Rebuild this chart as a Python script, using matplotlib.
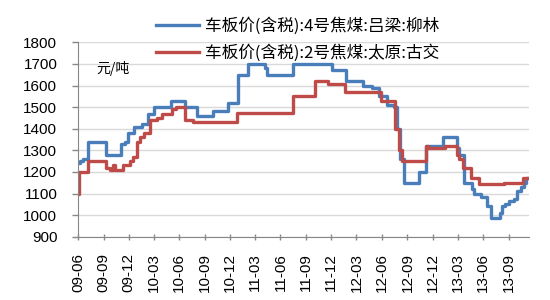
import matplotlib
matplotlib.use("Agg")
import matplotlib.pyplot as plt
import pandas as pd

plt.rcParams['font.family'] = ['Liberation Sans', 'Noto Sans CJK SC', 'DejaVu Sans']

# 4号焦煤 吕梁柳林 (step changes)
blue_dates = ['2009-06-01', '2009-06-08', '2009-06-19', '2009-07-06', '2009-09-10', '2009-11-03',
              '2009-11-18', '2009-11-29', '2009-12-20', '2010-01-18', '2010-02-09', '2010-03-01',
              '2010-05-01', '2010-06-21', '2010-08-03', '2010-09-30', '2010-11-24', '2010-12-29',
              '2011-02-04', '2011-04-08', '2011-04-15', '2011-07-18', '2011-12-03', '2012-01-23',
              '2012-03-23', '2012-04-28', '2012-05-23', '2012-06-21', '2012-07-13', '2012-07-24',
              '2012-08-04', '2012-08-18', '2012-10-12', '2012-11-06', '2013-01-07', '2013-02-26',
              '2013-03-07', '2013-03-25', '2013-04-23', '2013-04-30', '2013-05-25', '2013-06-16',
              '2013-06-30', '2013-08-02', '2013-08-09', '2013-08-20', '2013-09-04', '2013-09-22',
              '2013-10-02', '2013-10-17', '2013-10-28', '2013-11-04', '2013-11-14']
blue_vals = [1240, 1250, 1260, 1340, 1280, 1330, 1340, 1380, 1410, 1420, 1470, 1500,
             1530, 1500, 1460, 1480, 1520, 1650, 1700, 1680, 1650, 1700, 1670, 1620,
             1600, 1590, 1550, 1510, 1500, 1400, 1260, 1150, 1200, 1320, 1360, 1310,
             1280, 1150, 1120, 1100, 1085, 1040, 985, 1010, 1040, 1050, 1065, 1075,
             1110, 1130, 1150, 1170, 1170]

# 2号焦煤 太原古交
red_dates = ['2009-06-01', '2009-06-04', '2009-07-06', '2009-09-10', '2009-09-25', '2009-10-05',
             '2009-10-12', '2009-11-10', '2009-12-05', '2009-12-16', '2009-12-30', '2010-01-11',
             '2010-01-25', '2010-02-16', '2010-03-11', '2010-03-29', '2010-05-05', '2010-05-19',
             '2010-06-21', '2010-07-19', '2010-12-26', '2011-07-18', '2011-10-02', '2011-11-19',
             '2012-01-19', '2012-05-27', '2012-07-20', '2012-07-31', '2012-08-11', '2012-11-06',
             '2012-11-13', '2013-01-14', '2013-02-26', '2013-03-07', '2013-03-21', '2013-04-20',
             '2013-05-18', '2013-08-17', '2013-10-24', '2013-11-14']
red_vals = [1100, 1200, 1250, 1220, 1210, 1230, 1210, 1230, 1250, 1270, 1340, 1360,
            1380, 1440, 1450, 1470, 1490, 1500, 1440, 1430, 1475, 1550, 1620, 1605,
            1570, 1530, 1400, 1300, 1250, 1320, 1310, 1320, 1280, 1260, 1220, 1170,
            1145, 1150, 1170, 1170]

blue_label = '车板价(含税):4号焦煤:吕梁:柳林'
red_label = '车板价(含税):2号焦煤:太原:古交'

tick_dates = pd.date_range('2009-06-01', '2013-09-01', freq='3MS')
tick_labels = [d.strftime('%y-%m') for d in tick_dates]
y_ticks = list(range(900, 1801, 100))

fig = plt.figure(figsize=(5.5, 3.0), dpi=100)
ax = fig.add_axes([0.142, 0.211, 0.820, 0.648])

l1, = ax.plot(pd.to_datetime(blue_dates), blue_vals, drawstyle='steps-post',
              color='#4a7ebb', lw=2.4, label=blue_label)
l2, = ax.plot(pd.to_datetime(red_dates), red_vals, drawstyle='steps-post',
              color='#be4b48', lw=2.4, label=red_label)

ax.set_xlim(pd.Timestamp('2009-06-01'), pd.Timestamp('2013-11-14'))
ax.set_ylim(900, 1800)
ax.set_yticks(y_ticks)
ax.set_xticks(tick_dates)
ax.set_xticklabels(tick_labels, rotation=90)
ax.tick_params(axis='both', labelsize=11, color='#868686', length=4, width=1)
ax.tick_params(axis='x', direction='inout', pad=10)
ax.tick_params(axis='y', direction='out', pad=11)
ax.grid(axis='y', color='#d9d9d9', lw=1)
ax.set_axisbelow(True)
for s in ['top', 'right']:
    ax.spines[s].set_visible(False)
for s in ['left', 'bottom']:
    ax.spines[s].set_color('#868686')

ax.text(0.04, 0.865, '元/吨', transform=ax.transAxes, fontsize=10,
        family=['Noto Sans CJK SC', 'DejaVu Sans'], va='center')

leg = fig.legend(handles=[l1, l2], loc='upper left', bbox_to_anchor=(0.268, 0.97),
                 frameon=False, prop={'family': ['Noto Sans CJK SC', 'DejaVu Sans'], 'size': 12},
                 handlelength=2.6, handletextpad=0.35, labelspacing=0.55, borderpad=0)

fig.savefig('out.png', dpi=100)
